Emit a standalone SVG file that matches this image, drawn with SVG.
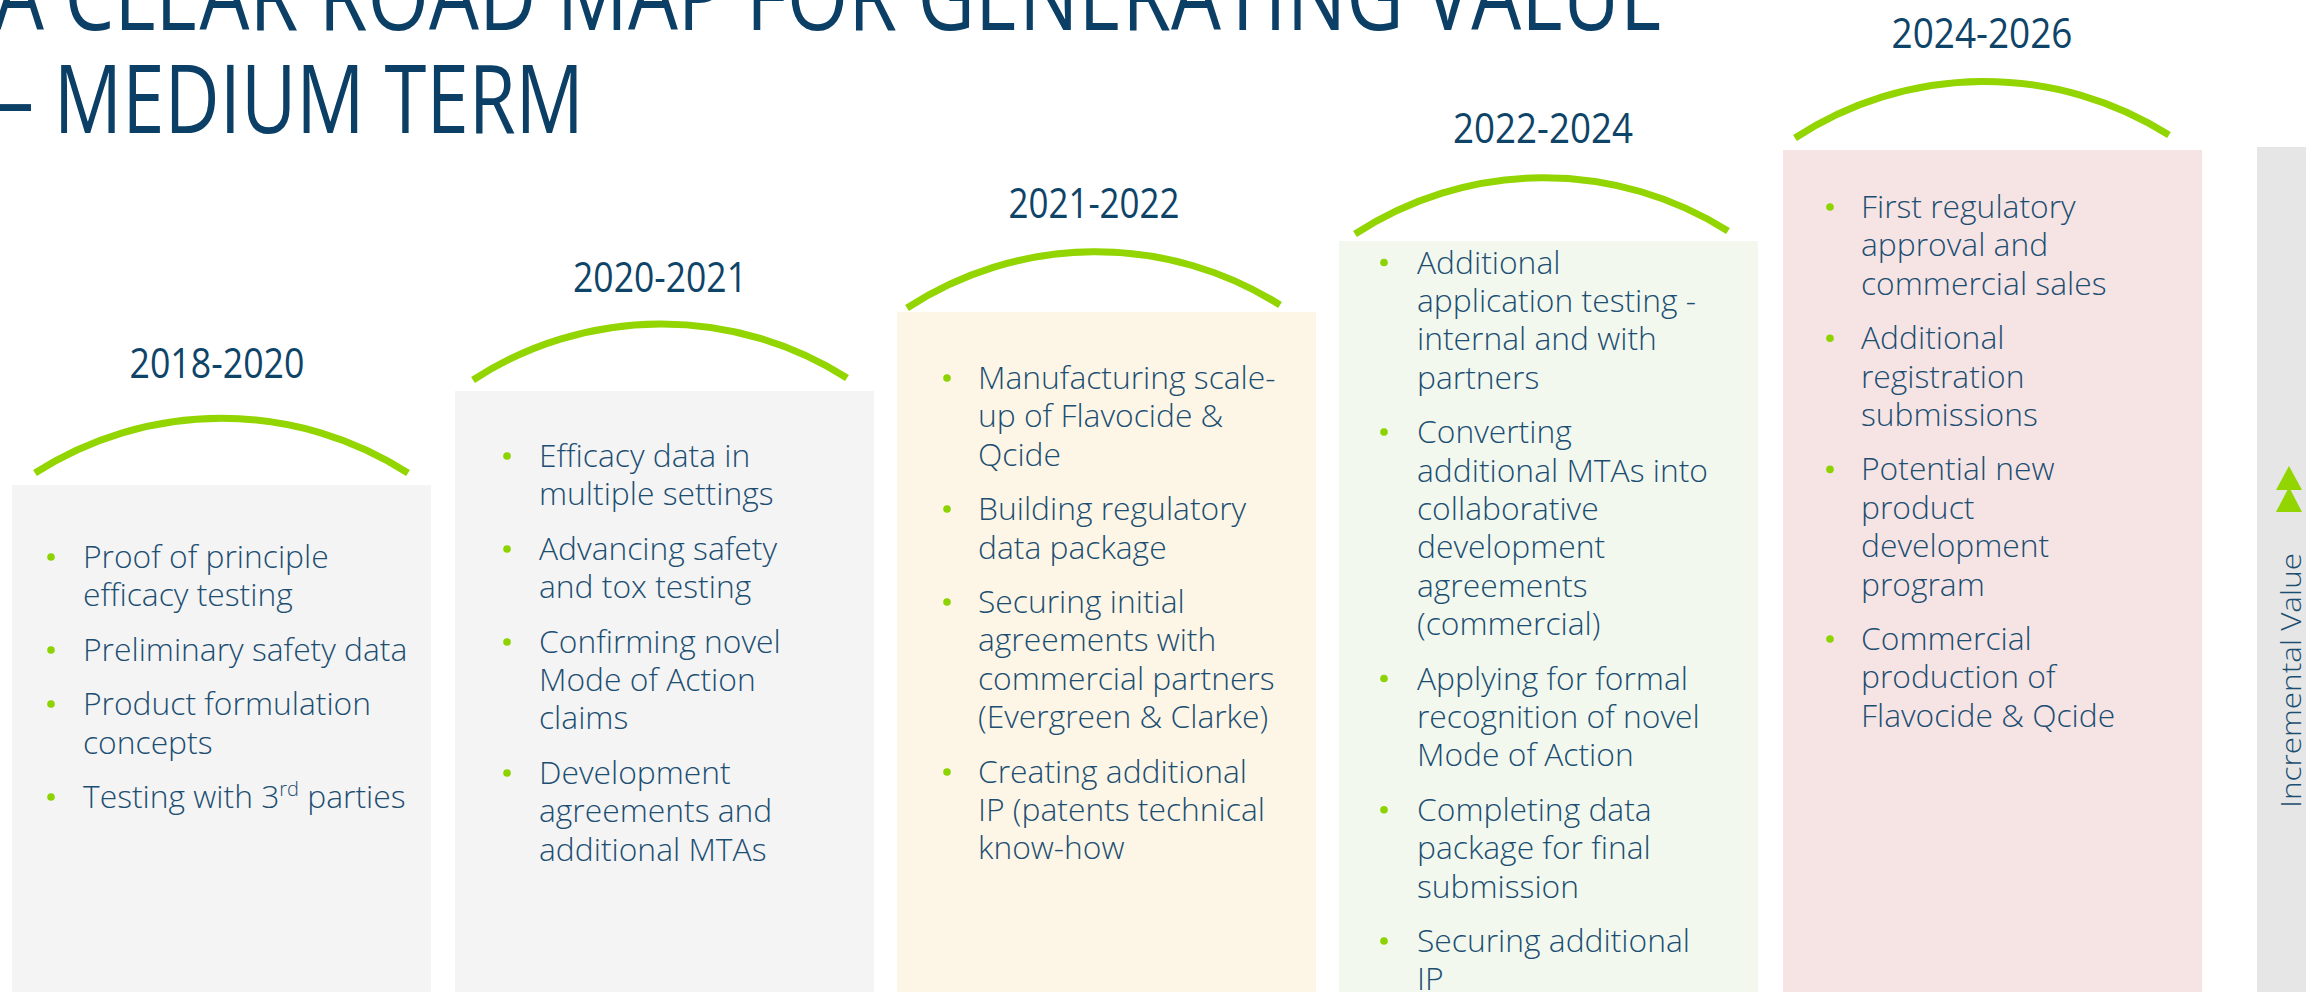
<svg xmlns="http://www.w3.org/2000/svg" width="2306" height="992" viewBox="0 0 2306 992">
  <defs>
    <style>
      .title { font-family: "Open Sans", "Liberation Sans", sans-serif; font-weight: 400; font-size: 96px; fill: #0B3F66; }
      .year { font-family: "Open Sans", "Liberation Sans", sans-serif; font-weight: 400; font-size: 42px; fill: #0F4469; text-anchor: middle; }
      .arc { fill: none; stroke: #93D500; stroke-width: 7; stroke-linecap: butt; }
      .item { font-family: "Open Sans", "Liberation Sans", sans-serif; font-weight: 300; font-size: 31.8px; fill: #1C4E72; }
      .dot { fill: #8CD300; }
      .side { font-family: "Open Sans", "Liberation Sans", sans-serif; font-weight: 300; font-size: 28px; fill: #1C4E72; }
    </style>
  </defs>

  <rect width="2306" height="992" fill="#FFFFFF"/>

  <!-- heading -->
  <g id="heading">
    <text class="title" x="-6" y="30" textLength="1670" lengthAdjust="spacingAndGlyphs">A CLEAR ROAD MAP FOR GENERATING VALUE</text>
    <text class="title" x="-4" y="133" textLength="588" lengthAdjust="spacingAndGlyphs">– MEDIUM TERM</text>
  </g>

  <!-- phase 1 -->
  <g id="phase-2018-2020">
    <rect x="12" y="485" width="419" height="507" fill="#F4F4F4"/>
    <text class="year" x="217" y="378" textLength="175" lengthAdjust="spacingAndGlyphs">2018-2020</text>
    <path class="arc" d="M35,473 A345,345 0 0 1 408,473"/>
    <g class="dot">
      <circle cx="51" cy="557" r="3.8"/>
      <circle cx="51" cy="650" r="3.8"/>
      <circle cx="51" cy="704" r="3.8"/>
      <circle cx="51" cy="797" r="3.8"/>
    </g>
    <text class="item">
      <tspan x="83" y="568">Proof of principle</tspan>
      <tspan x="83" y="606.4">efficacy testing</tspan>
      <tspan x="83" y="660.8">Preliminary safety data</tspan>
      <tspan x="83" y="715.2">Product formulation</tspan>
      <tspan x="83" y="753.6">concepts</tspan>
      <tspan x="83" y="808">Testing with 3<tspan font-size="20" dy="-12">rd</tspan><tspan dy="12"> parties</tspan></tspan>
    </text>
  </g>

  <!-- phase 2 -->
  <g id="phase-2020-2021">
    <rect x="455" y="391" width="419" height="601" fill="#F4F4F4"/>
    <text class="year" x="660" y="291.5" textLength="174" lengthAdjust="spacingAndGlyphs">2020-2021</text>
    <path class="arc" d="M473,380 A345,345 0 0 1 847,378"/>
    <g class="dot">
      <circle cx="507" cy="456" r="3.8"/>
      <circle cx="507" cy="549" r="3.8"/>
      <circle cx="507" cy="642" r="3.8"/>
      <circle cx="507" cy="773" r="3.8"/>
    </g>
    <text class="item">
      <tspan x="539" y="467">Efficacy data in</tspan>
      <tspan x="539" y="505.4">multiple settings</tspan>
      <tspan x="539" y="559.8">Advancing safety</tspan>
      <tspan x="539" y="598.2">and tox testing</tspan>
      <tspan x="539" y="652.6">Confirming novel</tspan>
      <tspan x="539" y="691">Mode of Action</tspan>
      <tspan x="539" y="729.4">claims</tspan>
      <tspan x="539" y="783.8">Development</tspan>
      <tspan x="539" y="822.2">agreements and</tspan>
      <tspan x="539" y="860.6">additional MTAs</tspan>
    </text>
  </g>

  <!-- phase 3 -->
  <g id="phase-2021-2022">
    <rect x="897" y="312" width="419" height="680" fill="#FDF6E6"/>
    <text class="year" x="1094" y="218" textLength="171" lengthAdjust="spacingAndGlyphs">2021-2022</text>
    <path class="arc" d="M907,308 A345,345 0 0 1 1280,305"/>
    <g class="dot">
      <circle cx="947" cy="378" r="3.8"/>
      <circle cx="947" cy="509" r="3.8"/>
      <circle cx="947" cy="602" r="3.8"/>
      <circle cx="947" cy="772" r="3.8"/>
    </g>
    <text class="item">
      <tspan x="978" y="389">Manufacturing scale-</tspan>
      <tspan x="978" y="427.4">up of Flavocide &amp;</tspan>
      <tspan x="978" y="465.8">Qcide</tspan>
      <tspan x="978" y="520.2">Building regulatory</tspan>
      <tspan x="978" y="558.6">data package</tspan>
      <tspan x="978" y="613">Securing initial</tspan>
      <tspan x="978" y="651.4">agreements with</tspan>
      <tspan x="978" y="689.8">commercial partners</tspan>
      <tspan x="978" y="728.2">(Evergreen &amp; Clarke)</tspan>
      <tspan x="978" y="782.6">Creating additional</tspan>
      <tspan x="978" y="821">IP (patents technical</tspan>
      <tspan x="978" y="859.4">know-how</tspan>
    </text>
  </g>

  <!-- phase 4 -->
  <g id="phase-2022-2024">
    <rect x="1339" y="241" width="419" height="751" fill="#F2F8EE"/>
    <text class="year" x="1543" y="143" textLength="180" lengthAdjust="spacingAndGlyphs">2022-2024</text>
    <path class="arc" d="M1355,234 A345,345 0 0 1 1728,231"/>
    <g class="dot">
      <circle cx="1384" cy="262.5" r="3.8"/>
      <circle cx="1384" cy="432" r="3.8"/>
      <circle cx="1384" cy="678.5" r="3.8"/>
      <circle cx="1384" cy="809.7" r="3.8"/>
      <circle cx="1384" cy="941" r="3.8"/>
    </g>
    <text class="item">
      <tspan x="1417" y="273.5">Additional</tspan>
      <tspan x="1417" y="311.9">application testing -</tspan>
      <tspan x="1417" y="350.3">internal and with</tspan>
      <tspan x="1417" y="388.7">partners</tspan>
      <tspan x="1417" y="443.1">Converting</tspan>
      <tspan x="1417" y="481.5">additional MTAs into</tspan>
      <tspan x="1417" y="519.9">collaborative</tspan>
      <tspan x="1417" y="558.3">development</tspan>
      <tspan x="1417" y="596.7">agreements</tspan>
      <tspan x="1417" y="635.1">(commercial)</tspan>
      <tspan x="1417" y="689.5">Applying for formal</tspan>
      <tspan x="1417" y="727.9">recognition of novel</tspan>
      <tspan x="1417" y="766.3">Mode of Action</tspan>
      <tspan x="1417" y="820.7">Completing data</tspan>
      <tspan x="1417" y="859.1">package for final</tspan>
      <tspan x="1417" y="897.5">submission</tspan>
      <tspan x="1417" y="951.9">Securing additional</tspan>
      <tspan x="1417" y="990.3">IP</tspan>
    </text>
  </g>

  <!-- phase 5 -->
  <g id="phase-2024-2026">
    <rect x="1783" y="150" width="419" height="842" fill="#F6E4E4"/>
    <text class="year" x="1982" y="47.5" textLength="181" lengthAdjust="spacingAndGlyphs">2024-2026</text>
    <path class="arc" d="M1795,138 A345,345 0 0 1 2169,135"/>
    <g class="dot">
      <circle cx="1830" cy="207" r="3.8"/>
      <circle cx="1830" cy="338.2" r="3.8"/>
      <circle cx="1830" cy="469.4" r="3.8"/>
      <circle cx="1830" cy="639" r="3.8"/>
    </g>
    <text class="item">
      <tspan x="1861" y="218">First regulatory</tspan>
      <tspan x="1861" y="256.4">approval and</tspan>
      <tspan x="1861" y="294.8">commercial sales</tspan>
      <tspan x="1861" y="349.2">Additional</tspan>
      <tspan x="1861" y="387.6">registration</tspan>
      <tspan x="1861" y="426">submissions</tspan>
      <tspan x="1861" y="480.4">Potential new</tspan>
      <tspan x="1861" y="518.8">product</tspan>
      <tspan x="1861" y="557.2">development</tspan>
      <tspan x="1861" y="595.6">program</tspan>
      <tspan x="1861" y="650">Commercial</tspan>
      <tspan x="1861" y="688.4">production of</tspan>
      <tspan x="1861" y="726.8">Flavocide &amp; Qcide</tspan>
    </text>
  </g>

  <!-- value axis -->
  <g id="value-axis">
    <rect x="2257" y="147" width="49" height="845" fill="#E6E6E6"/>
    <polygon points="2289,466 2302,490 2276,490" fill="#93D500"/>
    <polygon points="2289,487 2302,512 2276,512" fill="#93D500"/>
    <text class="side" transform="translate(2301,808) rotate(-90)" x="0" y="0" textLength="255" lengthAdjust="spacingAndGlyphs">Incremental Value</text>
  </g>
</svg>
